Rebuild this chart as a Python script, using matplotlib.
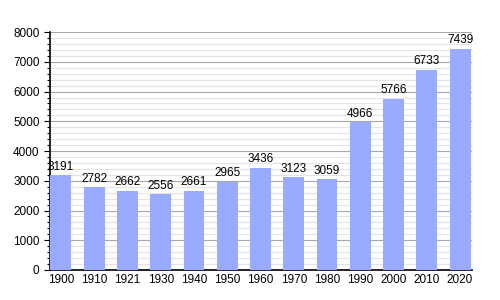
import matplotlib.pyplot as plt
from matplotlib.ticker import MultipleLocator

years = ['1900', '1910', '1921', '1930', '1940', '1950', '1960', '1970', '1980',
         '1990', '2000', '2010', '2020']
population = [3191, 2782, 2662, 2556, 2661, 2965, 3436, 3123, 3059,
              4966, 5766, 6733, 7439]

plt.rcParams['font.family'] = ['Liberation Sans', 'DejaVu Sans']

fig = plt.figure(figsize=(5, 3), dpi=100)
ax = fig.add_axes([0.1, 0.1, 0.844, 0.793])

x = range(len(years))
ax.bar(x, population, width=0.63, color='#99aaff', zorder=3)
for i, v in enumerate(population):
    ax.text(i, v + 80, str(v), ha='center', va='bottom', fontsize=8.5, zorder=4)

ax.set_xlim(-0.33, len(years) - 1 + 0.36)
ax.set_ylim(0, 8000)
ax.set_xticks(list(x))
ax.set_xticklabels(years, fontsize=8.5)
ax.yaxis.set_major_locator(MultipleLocator(1000))
ax.yaxis.set_minor_locator(MultipleLocator(200))
ax.tick_params(axis='y', labelsize=8.5, length=4, width=0.8)
ax.tick_params(axis='y', which='minor', length=2.5, width=0.8)
ax.tick_params(axis='x', length=0, pad=3)

ax.grid(axis='y', which='major', color='#a8a8a8', linewidth=0.8, zorder=0)
ax.grid(axis='y', which='minor', color='#e4e4e4', linewidth=0.8, zorder=0)

for s in ['top', 'right']:
    ax.spines[s].set_visible(False)
ax.spines['left'].set_linewidth(1.2)
ax.spines['bottom'].set_linewidth(1.2)

fig.savefig('out.png', dpi=100)
